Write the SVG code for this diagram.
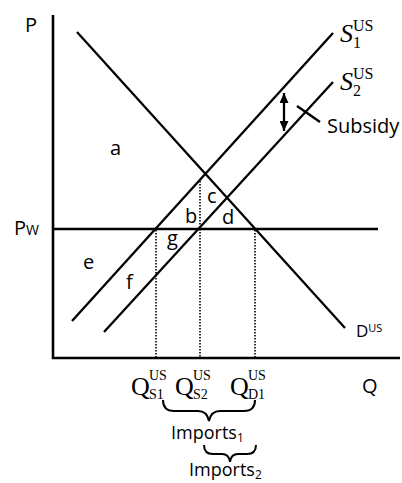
<svg xmlns="http://www.w3.org/2000/svg" width="402" height="483" viewBox="0 0 402 483">
<style>
.ln{stroke:#000;stroke-width:2.3;fill:none;stroke-linecap:butt}
.ax{stroke:#000;stroke-width:2.6;fill:none}
.dot{stroke:#000;stroke-width:1.6;stroke-dasharray:1.6 1.4;fill:none}
.br{stroke:#000;stroke-width:2;fill:none}
.t{font-family:"Open Sans","Noto Sans",sans-serif;fill:#000}
.m{font-family:"Liberation Serif","DejaVu Serif",serif;fill:#000}
</style>
<defs>
<marker id="ah" markerUnits="userSpaceOnUse" markerWidth="10" markerHeight="9" refX="10" refY="4.5" orient="auto-start-reverse">
<path d="M0,0 L10,4.5 L0,9 z" fill="#000"/>
</marker>
</defs>
<rect width="402" height="483" fill="#fff"/>
<g id="axes">
<line class="ax" x1="53" y1="15" x2="53" y2="359"/>
<line class="ax" x1="52" y1="358" x2="400" y2="358"/>
<text class="t" x="25" y="32" font-size="20">P</text>
<text class="t" x="362" y="393" font-size="20">Q</text>
</g>
<g id="connectors">
<line class="ln" x1="77" y1="32" x2="345" y2="328"/>
<line class="ln" x1="72" y1="321" x2="333" y2="33"/>
<line class="ln" x1="104" y1="332" x2="333" y2="82"/>
<line class="ln" x1="53" y1="229" x2="378" y2="229"/>
<line class="dot" x1="156" y1="230" x2="156" y2="357"/>
<line class="dot" x1="200" y1="181" x2="200" y2="357"/>
<line class="dot" x1="255" y1="230" x2="255" y2="357"/>
<line class="ln" x1="284" y1="93" x2="284" y2="131" stroke-width="2" marker-start="url(#ah)" marker-end="url(#ah)"/>
<line class="ln" x1="297" y1="106" x2="320" y2="122" stroke-width="2"/>
<path class="br" d="M163,400 Q163,411 174,411 L198,411 Q207,411 209,421 Q211,411 220,411 L244,411 Q255,411 255,400"/>
<path class="br" d="M204,445 Q204,454 213,454 L222,454 Q229,454 230,462 Q231,454 238,454 L247,454 Q256,454 256,445"/>
</g>
<g id="pw"><text class="t" x="14" y="235" font-size="20">P<tspan font-size="14">W</tspan></text></g>
<g id="s1"><text class="m" x="340" y="42" font-size="26" font-style="italic">S</text><text class="m" x="353" y="31" font-size="16">US</text><text class="m" x="353" y="48" font-size="16">1</text></g>
<g id="s2"><text class="m" x="340" y="90" font-size="26" font-style="italic">S</text><text class="m" x="353" y="79" font-size="16">US</text><text class="m" x="353" y="96" font-size="16">2</text></g>
<g id="dus"><text class="t" x="356" y="337" font-size="17">D<tspan font-size="11" dy="-5">US</tspan></text></g>
<g id="subsidy"><text class="t" x="327" y="133" font-size="20">Subsidy</text></g>
<g id="areas">
<text class="t" x="110" y="155" font-size="20">a</text>
<text class="t" x="185" y="223" font-size="20">b</text>
<text class="t" x="207" y="203" font-size="20">c</text>
<text class="t" x="222" y="224" font-size="20">d</text>
<text class="t" x="83" y="269" font-size="20">e</text>
<text class="t" x="126" y="289" font-size="20">f</text>
<text class="t" x="167" y="245" font-size="20">g</text>
</g>
<g id="qs1"><text class="m" x="131" y="395" font-size="26">Q</text><text class="m" x="149" y="380" font-size="14">US</text><text class="m" x="149" y="399" font-size="14">S1</text></g>
<g id="qs2"><text class="m" x="175" y="395" font-size="26">Q</text><text class="m" x="193" y="380" font-size="14">US</text><text class="m" x="193" y="399" font-size="14">S2</text></g>
<g id="qd1"><text class="m" x="230" y="395" font-size="26">Q</text><text class="m" x="248" y="380" font-size="14">US</text><text class="m" x="248" y="399" font-size="14">D1</text></g>
<g id="imports1"><text class="t" x="171" y="439" font-size="18">Imports<tspan font-size="12" dy="3">1</tspan></text></g>
<g id="imports2"><text class="t" x="189" y="476" font-size="18">Imports<tspan font-size="12" dy="3">2</tspan></text></g>
</svg>
